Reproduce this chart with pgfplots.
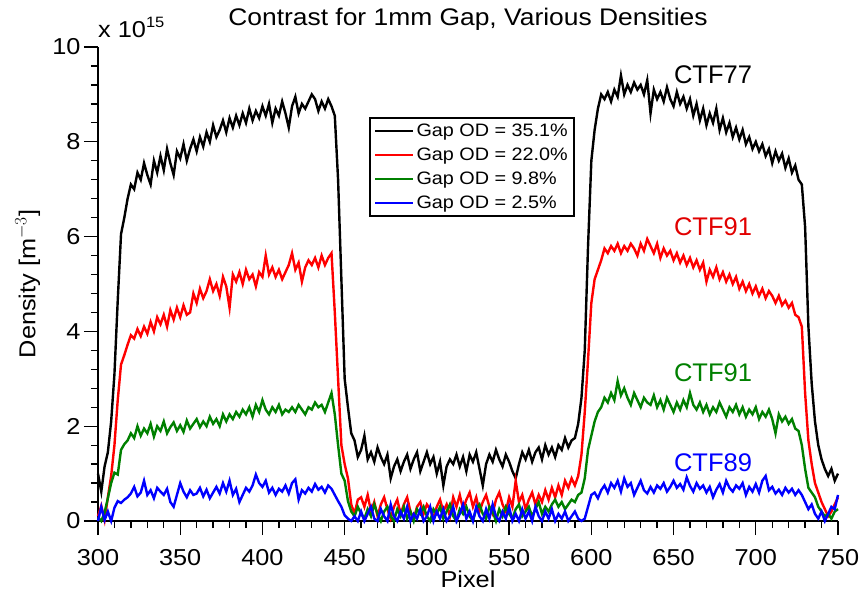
\documentclass[border=0pt]{standalone}
\usepackage{fontspec}
\setmainfont[FakeStretch=1.1]{Liberation Sans}
\newfontfamily\ctffont{Liberation Sans}
\usepackage{pgfplots}
\usepackage{pgfplotstable}
\pgfplotsset{compat=1.18}
\definecolor{cgreen}{RGB}{0,128,0}
\definecolor{cred}{RGB}{255,0,0}
\definecolor{cblue}{RGB}{0,0,255}
\definecolor{tred}{RGB}{225,0,0}
\pgfplotstableread{
x k r g b
300 1.00 0.10 0.08 0.00
302 0.62 0.32 0.00 0.30
304 1.15 0.02 0.18 0.02
306 1.45 0.50 0.48 0.20
308 2.10 0.95 0.80 0.00
310 3.10 1.60 1.02 0.28
312 4.65 2.55 0.98 0.42
314 6.05 3.30 1.50 0.38
316 6.40 3.50 1.62 0.45
318 6.80 3.72 1.70 0.50
320 7.10 3.92 1.85 0.58
322 7.00 3.85 1.75 0.72
324 7.35 4.05 2.00 0.52
326 7.20 3.90 1.80 0.60
328 7.55 4.10 1.95 0.85
330 7.30 3.95 1.85 0.55
332 7.10 4.20 2.05 0.65
334 7.60 4.00 1.78 0.48
336 7.35 4.30 2.00 0.70
338 7.70 4.15 1.90 0.62
340 7.40 4.35 2.10 0.55
342 7.85 4.10 1.85 0.68
344 7.55 4.45 1.98 0.40
346 7.30 4.25 2.08 0.30
348 7.80 4.50 1.90 0.55
350 7.65 4.30 2.02 0.80
352 7.95 4.55 1.88 0.62
354 7.60 4.35 2.12 0.50
356 7.85 4.40 1.95 0.65
358 8.05 4.80 2.05 0.55
360 7.80 4.60 2.15 0.58
362 8.10 4.90 1.98 0.70
364 7.90 4.70 2.10 0.52
366 8.20 4.85 2.00 0.66
368 8.00 5.10 2.20 0.48
370 8.35 4.85 2.05 0.60
372 8.10 5.00 2.15 0.72
374 8.25 4.75 2.00 0.58
376 8.45 5.15 2.25 0.80
378 8.20 4.95 2.10 0.62
380 8.50 4.50 2.25 0.85
382 8.30 5.20 2.15 0.55
384 8.55 5.05 2.30 0.68
386 8.35 5.25 2.20 0.40
388 8.60 5.00 2.35 0.55
390 8.40 5.30 2.25 0.70
392 8.70 5.10 2.40 0.62
394 8.45 5.20 2.20 0.75
396 8.65 4.95 2.45 0.98
398 8.50 5.25 2.30 0.80
400 8.75 5.15 2.55 0.72
402 8.55 5.60 2.35 0.85
404 8.80 5.20 2.25 0.60
406 8.40 5.35 2.40 0.70
408 8.70 5.15 2.30 0.55
410 8.55 5.30 2.45 0.68
412 8.85 5.10 2.25 0.62
414 8.60 5.25 2.35 0.75
416 8.30 5.40 2.30 0.58
418 8.75 5.65 2.40 0.80
420 8.95 5.30 2.30 0.88
422 8.60 5.45 2.45 0.45
424 8.80 5.05 2.35 0.65
426 8.70 5.35 2.25 0.58
428 8.85 5.50 2.40 0.70
430 9.00 5.40 2.35 0.62
432 8.90 5.55 2.50 0.78
434 8.65 5.35 2.40 0.66
436 8.85 5.60 2.45 0.72
438 8.70 5.40 2.30 0.60
440 8.90 5.55 2.50 0.75
442 8.75 5.65 2.70 0.68
444 8.55 4.40 2.25 0.55
446 7.20 3.00 1.60 0.42
448 5.10 1.60 1.00 0.30
450 3.00 1.20 0.85 0.12
452 2.40 0.90 0.42 0.05
454 1.85 0.35 0.20 0.00
456 1.70 0.15 0.10 0.10
458 1.35 0.45 0.30 0.00
460 1.50 0.50 0.15 0.20
462 1.80 0.30 0.05 0.00
464 1.30 0.55 0.25 0.15
466 1.45 0.20 0.10 0.30
468 1.25 0.40 0.35 0.05
470 1.55 0.10 0.15 0.00
472 1.35 0.35 0.00 0.25
474 1.20 0.50 0.20 0.10
476 1.40 0.25 0.30 0.00
478 0.90 0.05 0.10 0.35
480 1.15 0.30 0.00 0.10
482 1.30 0.45 0.25 0.00
484 1.05 0.15 0.10 0.20
486 1.25 0.35 0.30 0.05
488 1.40 0.50 0.05 0.30
490 1.10 0.20 0.20 0.00
492 1.30 0.05 0.00 0.15
494 1.45 0.30 0.25 0.05
496 1.05 0.40 0.15 0.25
498 1.25 0.15 0.30 0.00
500 1.45 0.35 0.10 0.10
502 1.20 0.25 0.00 0.30
504 1.35 0.05 0.25 0.00
506 1.00 0.30 0.15 0.20
508 1.25 0.45 0.30 0.05
510 0.75 0.20 0.05 0.25
512 1.15 0.35 0.20 0.00
514 1.30 0.10 0.35 0.10
516 1.20 0.50 0.10 0.30
518 1.40 0.30 0.00 0.00
520 1.15 0.55 0.25 0.15
522 1.35 0.25 0.15 0.35
524 1.05 0.45 0.30 0.05
526 1.40 0.60 0.10 0.20
528 1.25 0.30 0.00 0.00
530 1.45 0.50 0.25 0.30
532 1.10 0.20 0.35 0.10
534 0.75 0.40 0.15 0.00
536 1.20 0.55 0.05 0.25
538 1.40 0.30 0.30 0.05
540 1.25 0.15 0.20 0.35
542 1.50 0.45 0.00 0.10
544 1.30 0.60 0.25 0.00
546 1.15 0.35 0.10 0.20
548 1.40 0.20 0.30 0.05
550 1.25 0.50 0.15 0.30
552 1.05 0.30 0.05 0.00
554 0.90 0.85 0.25 0.15
556 1.20 0.40 0.35 0.00
558 1.45 0.55 0.10 0.25
560 1.30 0.25 0.20 0.05
562 1.50 0.45 0.30 0.20
564 1.25 0.60 0.10 0.00
566 1.45 0.35 0.25 0.30
568 1.55 0.55 0.40 0.10
570 1.30 0.40 0.15 0.00
572 1.60 0.65 0.30 0.20
574 1.40 0.45 0.20 0.05
576 1.55 0.70 0.35 0.25
578 1.35 0.50 0.45 0.00
580 1.60 0.75 0.30 0.15
582 1.50 0.55 0.40 0.05
584 1.75 0.85 0.25 0.20
586 1.55 0.70 0.35 0.00
588 1.70 0.90 0.45 0.10
590 1.75 0.75 0.40 0.20
592 2.05 0.95 0.55 0.05
594 2.60 1.40 0.60 0.00
596 3.60 2.30 0.90 0.05
598 5.80 3.40 1.50 0.30
600 7.60 4.60 1.80 0.55
602 8.25 5.10 2.10 0.60
604 8.70 5.30 2.30 0.48
606 9.00 5.50 2.40 0.65
608 8.90 5.75 2.60 0.75
610 9.05 5.65 2.50 0.60
612 8.85 5.80 2.70 0.80
614 9.10 5.70 2.55 0.70
616 8.95 5.85 2.95 0.85
618 9.40 5.65 2.65 0.62
620 9.00 5.80 2.80 0.90
622 9.20 5.70 2.60 0.72
624 9.05 5.85 2.45 0.80
626 9.25 5.75 2.70 0.55
628 9.10 5.60 2.55 0.70
630 9.20 5.85 2.40 0.85
632 9.00 5.70 2.60 0.65
634 9.30 5.95 2.50 0.58
636 8.60 5.80 2.45 0.72
638 9.10 5.65 2.65 0.60
640 8.90 5.85 2.40 0.75
642 9.05 5.55 2.55 0.68
644 8.85 5.75 2.35 0.80
646 9.15 5.60 2.60 0.62
648 8.90 5.70 2.45 0.72
650 8.75 5.50 2.30 0.85
652 9.05 5.65 2.50 0.70
654 8.80 5.45 2.35 0.78
656 8.95 5.60 2.55 0.66
658 8.70 5.40 2.40 0.92
660 8.90 5.55 2.70 0.74
662 8.55 5.35 2.45 0.62
664 8.80 5.50 2.35 0.80
666 8.45 5.30 2.50 0.68
668 8.70 5.45 2.30 0.75
670 8.35 5.05 2.45 0.60
672 8.60 5.30 2.25 0.72
674 8.40 5.15 2.40 0.50
676 8.70 5.35 2.30 0.66
678 8.25 5.10 2.50 0.78
680 8.50 5.25 2.35 0.60
682 8.20 5.05 2.20 0.85
684 8.40 5.20 2.40 0.70
686 8.10 5.00 2.30 0.62
688 8.30 5.15 2.45 0.75
690 8.05 4.90 2.25 0.68
692 8.25 5.05 2.40 0.80
694 7.95 4.85 2.20 0.55
696 8.10 5.00 2.35 0.72
698 7.85 4.80 2.25 0.62
700 8.00 4.95 2.40 0.78
702 7.80 4.75 2.15 0.60
704 7.95 4.90 2.30 0.85
706 7.70 4.70 2.20 0.95
708 7.85 4.85 2.35 0.65
710 7.55 4.75 2.15 0.72
712 7.80 4.60 1.85 0.58
714 7.60 4.75 2.25 0.66
716 7.75 4.55 2.10 0.55
718 7.45 4.65 2.20 0.70
720 7.65 4.50 2.05 0.60
722 7.35 4.60 2.15 0.68
724 7.50 4.35 1.95 0.55
726 7.20 4.30 1.90 0.65
728 7.10 4.10 1.60 0.55
730 6.20 2.70 1.10 0.40
732 4.10 1.70 0.70 0.25
734 2.90 1.20 0.60 0.35
736 2.10 0.80 0.50 0.15
738 1.60 0.60 0.30 0.05
740 1.30 0.40 0.20 0.20
742 1.10 0.25 0.10 0.00
744 0.95 0.10 0.15 0.15
746 1.10 0.20 0.05 0.30
748 0.85 0.35 0.20 0.25
750 1.00 0.50 0.25 0.55
}\data

\begin{document}
\begin{tikzpicture}
\useasboundingbox (-98pt,-74pt) rectangle (766pt,521pt);
\begin{axis}[
  scale only axis, width=740pt, height=474pt,
  xmin=300, xmax=750, ymin=0, ymax=10,
  axis x line=bottom, axis y line=left,
  axis line style={line width=1.5pt,-},
  tick align=outside, major tick length=14pt, minor tick length=7pt,
  every tick/.style={black, line width=1.3pt},
  xtick={300,350,...,750}, ytick={0,2,...,10},
  minor x tick num=4, minor y tick num=4,
  scaled ticks=false,
  /pgf/number format/assume math mode=true,
  /pgf/number format/1000 sep={},
  tick label style={font=\fontsize{23}{27}\selectfont},
  xticklabel style={yshift=-11pt},
  xlabel={Pixel}, ylabel={Density [m$^{-3}$]},
  label style={font=\fontsize{23}{27}\selectfont},
  xlabel style={at={(axis description cs:0.5,-0.124)}, anchor=center},
  ylabel style={at={(axis description cs:-0.095,0.5)}, anchor=center},
  title={Contrast for 1mm Gap, Various Densities},
  title style={font=\fontsize{24}{28}\selectfont, at={(axis description cs:0.5,1.046)}, anchor=center},
  clip=false,
  legend style={at={(axis cs:465,8.52)}, anchor=north west, draw=black, line width=1.6pt,
    font=\fontsize{18}{20}\selectfont, inner xsep=4pt, inner ysep=4pt, row sep=6pt, cells={anchor=west}},
  legend image code/.code={\draw[#1, line width=2.4pt] (0pt,0pt) -- (38pt,0pt);},
]
\addplot[black, line width=2.4pt] table[x=x, y=k] {\data};
\addlegendentry{Gap OD = 35.1\%}
\addplot[cred, line width=2.4pt] table[x=x, y=r] {\data};
\addlegendentry{Gap OD = 22.0\%}
\addplot[cgreen, line width=2.4pt] table[x=x, y=g] {\data};
\addlegendentry{Gap OD = 9.8\%}
\addplot[cblue, line width=2.4pt] table[x=x, y=b] {\data};
\addlegendentry{Gap OD = 2.5\%}
\node[anchor=base west, font=\fontsize{23}{27}\selectfont, inner sep=0pt] at (rel axis cs:0,1) [yshift=9pt] {x 10\raisebox{10pt}{\fontsize{15}{15}\selectfont 15}};
\node[font=\ctffont\fontsize{25.5}{30}\selectfont, text=black] at (axis cs:674,9.41) {CTF77};
\node[font=\ctffont\fontsize{25.5}{30}\selectfont, text=tred] at (axis cs:674,6.2) {CTF91};
\node[font=\ctffont\fontsize{25.5}{30}\selectfont, text=cgreen] at (axis cs:674,3.12) {CTF91};
\node[font=\ctffont\fontsize{25.5}{30}\selectfont, text=cblue] at (axis cs:674,1.22) {CTF89};
\end{axis}
\end{tikzpicture}
\end{document}
